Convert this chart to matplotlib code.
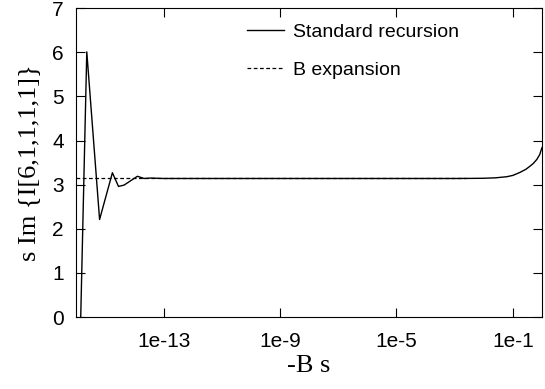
import matplotlib
matplotlib.use("Agg")
import matplotlib.pyplot as plt
import numpy as np

# Standard recursion
rec_x = [1e-16, 10**-15.64, 10**-15.2, 10**-14.76, 10**-14.55, 10**-14.36,
         10**-13.9, 10**-13.67, 10**-13.45, 1e-13, 1e-11, 1e-9, 1e-7, 1e-5,
         1e-4, 1e-3, 10**-2.5, 1e-2, 10**-1.6, 10**-1.21, 10**-1.0, 10**-0.75,
         10**-0.55, 10**-0.41, 10**-0.3, 10**-0.18, 10**-0.08, 1.0]
rec_y = [-4.4, 6.01, 2.21, 3.27, 2.96, 2.99,
         3.19, 3.14, 3.15, 3.14, 3.14, 3.14, 3.14, 3.14,
         3.14, 3.14, 3.142, 3.145, 3.155, 3.18, 3.21, 3.28,
         3.35, 3.42, 3.48, 3.57, 3.68, 3.84]

# B expansion
bexp_x = [1e-16, 10**-2.6]
bexp_y = [3.1416, 3.1416]

xticks = [1e-13, 1e-9, 1e-5, 1e-1]
xticklabels = ["1e-13", "1e-9", "1e-5", "1e-1"]
yticks = [0, 1, 2, 3, 4, 5, 6, 7]

fig = plt.figure(figsize=(5.45, 3.89), dpi=100)
ax = fig.add_axes([0.140, 0.185, 0.8545, 0.794])

ax.plot(bexp_x, bexp_y, color="black", lw=0.9, linestyle=(0, (3, 2)), label="B expansion")
ax.plot(rec_x, rec_y, color="black", lw=1.0, label="Standard recursion")

ax.set_xscale("log")
ax.set_xlim(1e-16, 1.0)
ax.set_ylim(0, 7)
ax.set_xticks(xticks)
ax.set_xticklabels(xticklabels)
ax.xaxis.set_minor_locator(matplotlib.ticker.NullLocator())
ax.set_yticks(yticks)

tickfont = "Liberation Sans"
for lab in ax.get_xticklabels() + ax.get_yticklabels():
    lab.set_family(tickfont)
    lab.set_fontsize(15)

ax.tick_params(direction="in", length=6.5, width=0.8, top=True, right=True)
ax.tick_params(axis="x", pad=11)
ax.tick_params(axis="y", pad=9)
for sp in ax.spines.values():
    sp.set_linewidth(0.8)

ax.set_xlabel("-B s", family="Liberation Serif", fontsize=19, labelpad=3)
ax.set_ylabel("s Im {I[6,1,1,1,1]}", family="Liberation Serif", fontsize=19, labelpad=9)

handles, labels = ax.get_legend_handles_labels()
leg = ax.legend(handles[::-1], labels[::-1], loc="upper right", bbox_to_anchor=(0.86, 1.007),
                frameon=False, prop={"family": tickfont, "size": 14},
                handlelength=1.9, handletextpad=0.5, labelspacing=1.05)

fig.savefig("out.png", dpi=100)
